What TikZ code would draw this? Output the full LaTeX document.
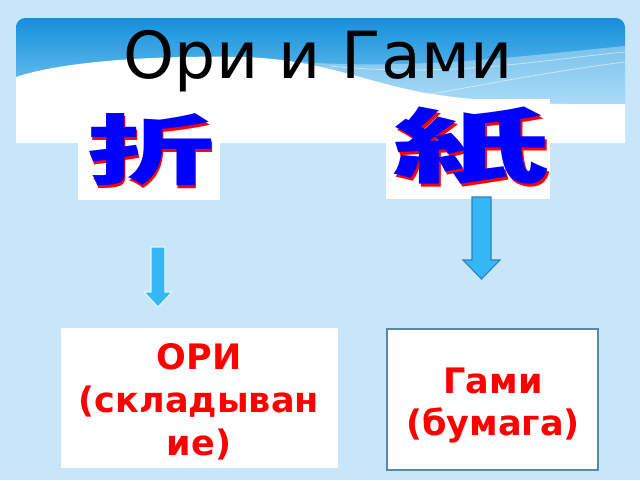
\documentclass[tikz,border=0pt]{standalone}
\usepackage{fontspec}
\setmainfont{DejaVu Sans}
\newfontfamily\cjkfont{Noto Sans CJK JP}
\definecolor{bg}{HTML}{C8E6F9}
\definecolor{bannerTop}{HTML}{1490DB}
\definecolor{bannerBot}{HTML}{86CEF4}
\definecolor{kblue}{HTML}{0000FF}
\definecolor{kred}{HTML}{FF0000}
\definecolor{arrowfill}{HTML}{35B6F5}
\definecolor{arrowline}{HTML}{2F7EC0}
\definecolor{boxline}{HTML}{5A88A8}
\tikzset{
  whitebox/.style={fill=white, inner sep=0pt, outer sep=0pt},
  redtext/.style={text=kred, font=\bfseries\fontsize{26.3}{31}\selectfont, anchor=base, inner sep=0pt},
  blockarrow/.style={fill=arrowfill, line width=0.8pt, line join=miter},
  kanjione/.style={anchor=base, inner sep=0pt, font=\cjkfont\bfseries\fontsize{57}{57}\selectfont},
  kanjitwo/.style={anchor=base, inner sep=0pt, font=\cjkfont\bfseries\fontsize{61}{61}\selectfont},
}
\begin{document}
\begin{tikzpicture}[x=0.75pt,y=0.75pt]
\useasboundingbox (0,0) rectangle (640,-480);
\fill[bg] (0,0) rectangle (640,-480);
% banner
\begin{scope}
  \clip (16,-18) rectangle (625,-143);
  \clip[rounded corners=7pt] (16,-18) rectangle (625,-170);
  \shade[top color=bannerTop, bottom color=bannerBot] (16,-18) rectangle (625,-112);
  \fill[white, opacity=0.35] (300,-62) .. controls (420,-70) and (520,-56) .. (625,-46) -- (625,-112) -- (300,-112) -- cycle;
  \draw[white, opacity=0.5, line width=0.6pt] (330,-66) .. controls (450,-78) and (540,-60) .. (625,-52);
  \draw[white, opacity=0.5, line width=0.6pt] (400,-100) .. controls (480,-85) and (560,-70) .. (625,-62);
  \fill[white] (16,-77) .. controls (60,-62) and (150,-55) .. (245,-57)
     .. controls (320,-60) and (360,-80) .. (420,-92)
     .. controls (500,-106) and (580,-104) .. (625,-104)
     -- (625,-143) -- (16,-143) -- cycle;
\end{scope}
\node[font=\fontsize{48.7}{55}\selectfont, anchor=base, inner sep=0pt] (title) at (318,-78) {Ори и Гами};
% kanji boxes
\node[whitebox, minimum width=106.5pt, minimum height=66pt] (k1box) at (149,-155.5) {};
\node[whitebox, minimum width=123pt, minimum height=75pt] (k2box) at (468,-149) {};
\node[kanjione, text=kred] (k1s) at (152,-181.5) {\scalebox{1.68}[1]{折}};
\node[kanjione, text=kblue] (k1) at (151,-178.5) {\scalebox{1.68}[1]{折}};
\node[kanjitwo, text=kred] (k2s) at (473,-179.5) {\scalebox{1.92}[1]{紙}};
\node[kanjitwo, text=kblue] (k2) at (471,-176.5) {\scalebox{1.92}[1]{紙}};
% arrows
\draw[blockarrow, draw=white!85!arrowfill] (151,-247) -- (165,-247) -- (165,-292) -- (172,-292) -- (158,-307) -- (144,-292) -- (151,-292) -- cycle;
\draw[blockarrow, draw=arrowline] (472,-197) -- (491,-197) -- (491,-260) -- (500,-260) -- (481.5,-279) -- (463,-260) -- (472,-260) -- cycle;
% bottom boxes
\node[whitebox, minimum width=207.75pt, minimum height=105pt] (oribox) at (199.5,-398) {};
\node[whitebox, draw=boxline, line width=0.8pt, minimum width=158.25pt, minimum height=105.75pt] (gamibox) at (492.5,-399.5) {};
\node[redtext] (ori1) at (199,-369) {ОРИ};
\node[redtext] (ori2) at (199,-412) {(складыван};
\node[redtext] (ori3) at (199,-455) {ие)};
\node[redtext] (gami1) at (493,-393) {Гами};
\node[redtext] (gami2) at (493,-435) {(бумага)};
\end{tikzpicture}
\end{document}
